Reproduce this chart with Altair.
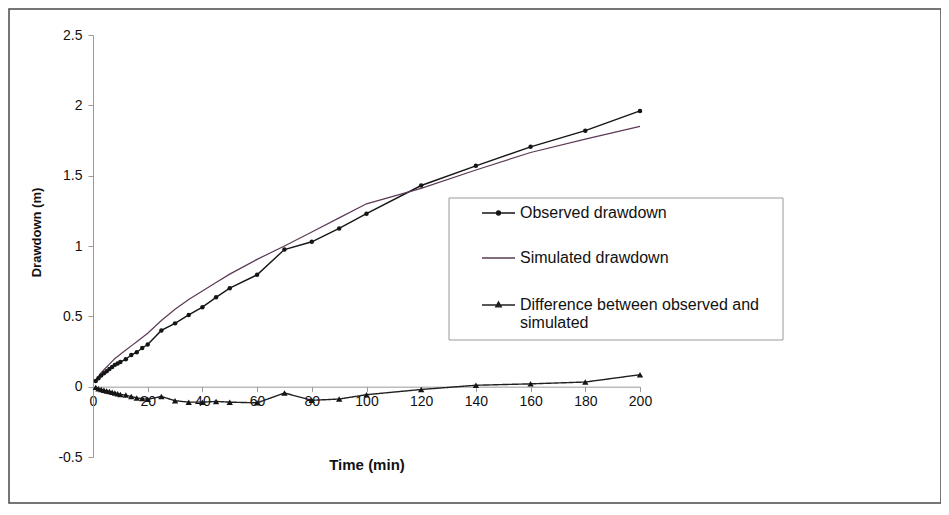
import altair as alt
import pandas as pd

# ---- data ----
time = [1, 2, 3, 4, 5, 6, 7, 8, 9, 10, 12, 14, 16, 18, 20, 25, 30, 35, 40, 45,
        50, 60, 70, 80, 90, 100, 120, 140, 160, 180, 200]
observed = [0.04, 0.06, 0.08, 0.095, 0.11, 0.125, 0.14, 0.155, 0.165, 0.175,
            0.195, 0.225, 0.245, 0.275, 0.30, 0.40, 0.45, 0.51, 0.565, 0.635,
            0.70, 0.795, 0.975, 1.03, 1.125, 1.23, 1.43, 1.57, 1.705, 1.82, 1.96]
simulated = [0.045, 0.075, 0.10, 0.12, 0.14, 0.16, 0.18, 0.20, 0.215, 0.23,
             0.26, 0.29, 0.32, 0.35, 0.38, 0.47, 0.55, 0.62, 0.68, 0.74,
             0.80, 0.905, 1.00, 1.10, 1.20, 1.30, 1.41, 1.54, 1.665, 1.76, 1.85]
difference = [-0.005, -0.015, -0.02, -0.025, -0.03, -0.035, -0.04, -0.045, -0.05, -0.055,
              -0.06, -0.07, -0.08, -0.085, -0.09, -0.07, -0.10, -0.11, -0.11, -0.105,
              -0.11, -0.115, -0.045, -0.097, -0.088, -0.057, -0.02, 0.01, 0.02, 0.033, 0.085]

series_names = ["Observed drawdown", "Simulated drawdown",
                "Difference between observed and simulated"]
series_colors = ["#151515", "#5b3a55", "#202020"]
y_ticks = [-0.5, 0, 0.5, 1, 1.5, 2, 2.5]
x_ticks = [0, 20, 40, 60, 80, 100, 120, 140, 160, 180, 200]

rows = []
for name, vals in zip(series_names, [observed, simulated, difference]):
    for t, v in zip(time, vals):
        rows.append({"time": t, "value": v, "series": name})
df = pd.DataFrame(rows)

FONT = "Liberation Sans"
W, H = 547, 422

obs_path = ("M-1,0H1M0.12,0C0.12,0.066 0.066,0.12 0,0.12C-0.066,0.12 -0.12,0.066 -0.12,0"
            "C-0.12,-0.066 -0.066,-0.12 0,-0.12C0.066,-0.12 0.12,-0.066 0.12,0Z")
tri_path = "M-1,0H1M0,-0.19L0.17,0.11L-0.17,0.11Z"

x_scale = alt.Scale(domain=[0, 200], nice=False)
y_scale = alt.Scale(domain=[-0.5, 2.5], nice=False, zero=False)

x_enc = alt.X("time:Q", scale=x_scale,
              axis=alt.Axis(values=x_ticks, title="Time (min)", offset=-70.33,
                            grid=False, domainColor="#9a9a9a", tickColor="#9a9a9a",
                            tickSize=5, labelPadding=3, labelFlush=False,
                            labelFont=FONT, labelFontSize=14,
                            labelColor="#111", titleFont=FONT, titleFontSize=15,
                            titleFontWeight="bold", titleColor="#111", titleY=78,
                            titleBaseline="middle"))
y_enc = alt.Y("value:Q", scale=y_scale,
              axis=alt.Axis(values=y_ticks, title="Drawdown (m)", grid=False,
                            labelExpr="datum.value + ''", labelFlush=False,
                            domainColor="#9a9a9a", tickColor="#9a9a9a", tickSize=5,
                            labelPadding=6, labelFont=FONT, labelFontSize=14,
                            labelColor="#111", titleFont=FONT, titleFontSize=13,
                            titleFontWeight="bold", titleColor="#111",
                            titleX=-57, titleY=197, titleAngle=270,
                            titleAlign="center", titleBaseline="middle"))


def make_legend(y, symbol, fill_color, stroke_color, label_expr=None):
    kw = dict(
        title=None, orient="none", legendX=388, legendY=y, direction="vertical",
        padding=0, symbolOffset=0, symbolType=symbol, symbolSize=1089,
        symbolStrokeWidth=1.3, symbolStrokeColor=stroke_color,
        symbolFillColor=fill_color, labelOffset=4,
        labelFont=FONT, labelFontSize=16, labelColor="#111", labelLimit=400,
    )
    if label_expr is not None:
        kw["labelExpr"] = label_expr
    return alt.Legend(**kw)


df_obs = df[df.series == series_names[0]]
df_sim = df[df.series == series_names[1]]
df_dif = df[df.series == series_names[2]]

line_obs = alt.Chart(df_obs).mark_line(strokeWidth=1.4).encode(
    x=x_enc, y=y_enc, order="time:Q",
    color=alt.Color("series:N",
                    scale=alt.Scale(domain=[series_names[0]], range=[series_colors[0]]),
                    legend=make_legend(160.5, obs_path, "#151515", series_colors[0])),
)
line_sim = alt.Chart(df_sim).mark_line(strokeWidth=1.2).encode(
    x=alt.X("time:Q", scale=x_scale), y=alt.Y("value:Q", scale=y_scale), order="time:Q",
    stroke=alt.Stroke("series:N",
                      scale=alt.Scale(domain=[series_names[1]], range=[series_colors[1]]),
                      legend=make_legend(205.5, "stroke", "transparent", series_colors[1])),
)
line_dif = alt.Chart(df_dif).mark_line(strokeWidth=1.4, color=series_colors[2]).encode(
    x=alt.X("time:Q", scale=x_scale), y=alt.Y("value:Q", scale=y_scale), order="time:Q",
    strokeDash=alt.StrokeDash(
        "series:N",
        scale=alt.Scale(domain=[series_names[2]], range=[[1, 0]]),
        legend=make_legend(
            252.5, tri_path, "#151515", series_colors[2],
            label_expr=("['Difference between observed and', 'simulated']"))),
)

pts_obs = alt.Chart(df_obs).mark_point(filled=True, opacity=1, size=20,
                                       shape="circle", color="#151515").encode(
    x=alt.X("time:Q", scale=x_scale), y=alt.Y("value:Q", scale=y_scale))
pts_dif = alt.Chart(df_dif).mark_point(filled=True, opacity=1, size=40,
                                       shape="triangle-up", color="#151515").encode(
    x=alt.X("time:Q", scale=x_scale), y=alt.Y("value:Q", scale=y_scale))

one = pd.DataFrame({"k": [0]})
frame = alt.Chart(one).mark_rect(
    fill="transparent", stroke="#4a4a4a", strokeWidth=1.5
).encode(x=alt.value(-84), x2=alt.value(848), y=alt.value(-26), y2=alt.value(468))
legend_box = alt.Chart(one).mark_rect(
    fill="white", stroke="#9a9a9a", strokeWidth=1
).encode(x=alt.value(356), x2=alt.value(690), y=alt.value(163), y2=alt.value(305))

chart = alt.layer(frame, line_obs, line_sim, line_dif, pts_obs, pts_dif,
                  legend_box).properties(
    width=W, height=H, background="white",
    autosize=alt.AutoSizeParams(type="none"),
    padding={"left": 85, "top": 27, "right": 301, "bottom": 48},
).configure_view(strokeWidth=0, stroke="transparent")

chart.save("out.html", embed_options={"renderer": "svg", "actions": False})
